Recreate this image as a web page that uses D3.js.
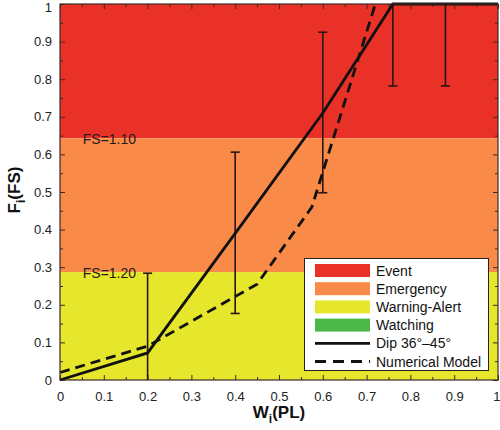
<!DOCTYPE html>
<html><head><meta charset="utf-8">
<script src="https://cdn.jsdelivr.net/npm/d3@7"></script>
<style>body{margin:0;background:#fff}text{font-family:"Liberation Sans",Arial,sans-serif}</style>
</head><body><svg id="c" width="500" height="430"></svg>
<script>
// zones (FS thresholds in F_i)
const zoneNames = ["Event","Emergency","Warning-Alert","Watching"];
const zoneColors = ["#ea3128","#f98a48","#e6e62c","#4db84a"];
const zoneBounds = [[0.643,1],[0.287,0.643],[0,0.287]];
const fsLabels = ["FS=1.10","FS=1.20"];
const fsLevels = [0.643,0.287];
// series
const dipX = [0,0.2,0.4,0.6,0.76,1];
const dipY = [0,0.072,0.39,0.71,1,1];
const numX = [0,0.2,0.45,0.575,0.72];
const numY = [0.02,0.09,0.255,0.46,1];
// error bars
const errX = [0.2,0.4,0.6,0.76,0.88];
const errLo = [0,0.177,0.498,0.782,0.782];
const errHi = [0.284,0.606,0.925,1,1];
const ticks = [0,0.1,0.2,0.3,0.4,0.5,0.6,0.7,0.8,0.9,1];
const minorTicks = [0.05,0.15,0.25,0.35,0.45,0.55,0.65,0.75,0.85,0.95];

const svg = d3.select("#c");
const L=60,R=498,T=4,B=380;
const x = d3.scaleLinear().domain([0,1]).range([L,R]);
const y = d3.scaleLinear().domain([0,1]).range([B,T]);
const fmt = d=> d===0?"0":d===1?"1":d3.format(".1f")(d);

// bands
svg.selectAll("rect.band").data(zoneBounds).join("rect")
  .attr("x",x(0)).attr("width",x(1)-x(0))
  .attr("y",d=>y(d[1])).attr("height",d=>y(d[0])-y(d[1]))
  .attr("fill",(d,i)=>zoneColors[i]);

// FS labels
svg.selectAll("text.fs").data(fsLabels).join("text")
  .attr("x",x(0.052)).attr("y",(d,i)=>y(fsLevels[i])+6)
  .attr("font-size",14).attr("fill","#2a1a1a").text(d=>d);

// axes
const ax = (gen, tv, size)=>gen.tickValues(tv).tickSize(size).tickFormat(fmt);
const gB = svg.append("g").attr("transform",`translate(0,${B})`).call(ax(d3.axisTop(x),ticks,5));
svg.append("g").attr("transform",`translate(0,${B})`).call(ax(d3.axisTop(x),minorTicks,3).tickFormat(""));
const gT = svg.append("g").attr("transform",`translate(0,${T})`).call(ax(d3.axisBottom(x),ticks,5).tickFormat(""));
svg.append("g").attr("transform",`translate(0,${T})`).call(ax(d3.axisBottom(x),minorTicks,3).tickFormat(""));
const gL = svg.append("g").attr("transform",`translate(${L},0)`).call(ax(d3.axisRight(y),ticks,5));
svg.append("g").attr("transform",`translate(${L},0)`).call(ax(d3.axisRight(y),minorTicks,3).tickFormat(""));
svg.append("g").attr("transform",`translate(${R},0)`).call(ax(d3.axisLeft(y),ticks,5).tickFormat(""));
svg.append("g").attr("transform",`translate(${R},0)`).call(ax(d3.axisLeft(y),minorTicks,3).tickFormat(""));
svg.selectAll(".domain").remove();
svg.selectAll(".tick line").attr("stroke","#3a2a2a").attr("stroke-width",1);
gB.selectAll(".tick text").attr("y",12).attr("dy","0.71em").attr("font-size",13).attr("fill","#222")
  .attr("text-anchor",d=>d===1?"end":"middle").attr("x",d=>d===1?2:0);
gL.selectAll(".tick text").attr("x",-8).attr("text-anchor","end").attr("font-size",13).attr("fill","#222")
  .attr("dy",d=>d===1?"0.55em":"0.32em");

// error bars
const eb = svg.append("g").attr("stroke","#2a1414").attr("stroke-width",1.6);
errX.forEach((xv,i)=>{
  eb.append("line").attr("x1",x(xv)).attr("x2",x(xv)).attr("y1",y(errLo[i])).attr("y2",y(errHi[i]));
  [errLo[i],errHi[i]].forEach(v=>{ if(v>0 && v<1) eb.append("line").attr("x1",x(xv)-4.5).attr("x2",x(xv)+4.5).attr("y1",y(v)).attr("y2",y(v)); });
});

// lines
const line = d3.line().x(d=>x(d[0])).y(d=>y(d[1]));
svg.append("path").datum(d3.zip(numX,numY)).attr("d",line).attr("fill","none")
  .attr("stroke","#111").attr("stroke-width",2.8).attr("stroke-dasharray","10,6");
svg.append("path").datum(d3.zip(dipX,dipY)).attr("d",line).attr("fill","none")
  .attr("stroke","#111").attr("stroke-width",2.8);

// border
svg.append("rect").attr("x",L).attr("y",T).attr("width",R-L).attr("height",B-T)
  .attr("fill","none").attr("stroke","#3a2a2a").attr("stroke-width",1.2);

// legend
const lg = svg.append("g");
lg.append("rect").attr("x",304.5).attr("y",258.5).attr("width",184).attr("height",112)
  .attr("fill","#fff").attr("stroke","#222").attr("stroke-width",1);
const legItems = zoneNames.map((n,i)=>({name:n,type:"swatch",color:zoneColors[i]}))
  .concat([{name:"Dip 36°–45°",type:"solid"},{name:"Numerical Model",type:"dash"}]);
legItems.forEach((d,i)=>{
  const cy = 270.5 + i*18.2;
  if(d.type==="swatch") lg.append("rect").attr("x",315).attr("y",cy-6.5).attr("width",55).attr("height",13).attr("fill",d.color);
  else lg.append("line").attr("x1",315).attr("x2",370).attr("y1",cy).attr("y2",cy).attr("stroke","#111").attr("stroke-width",2.8)
    .attr("stroke-dasharray",d.type==="dash"?"11,7":null);
  lg.append("text").attr("x",376).attr("y",cy+5).attr("font-size",14).attr("fill","#111").text(d.name);
});

// axis titles
const xt = svg.append("text").attr("x",279).attr("y",418).attr("text-anchor","middle")
  .attr("font-size",17).attr("font-weight","bold").attr("fill","#111");
xt.append("tspan").text("W");
xt.append("tspan").attr("font-size",12).attr("dy",5).text("i");
xt.append("tspan").attr("dy",-5).text("(PL)");
const yt = svg.append("text").attr("transform","translate(20,190) rotate(-90)").attr("text-anchor","middle")
  .attr("font-size",17).attr("font-weight","bold").attr("fill","#111");
yt.append("tspan").text("F");
yt.append("tspan").attr("font-size",12).attr("dy",5).text("i");
yt.append("tspan").attr("dy",-5).text("(FS)");
</script></body></html>
